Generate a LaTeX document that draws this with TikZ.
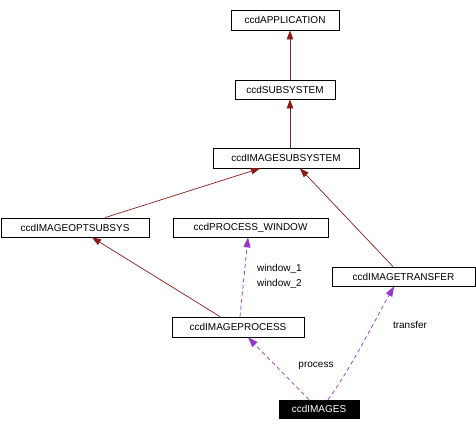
\documentclass[tikz,border=0pt]{standalone}
\usepackage{fontspec}
\setmainfont{Liberation Sans}
\usetikzlibrary{arrows.meta}
\definecolor{inh}{HTML}{8B1A1A}
\definecolor{use}{HTML}{9A32CD}
\tikzset{
  box/.style={draw=black, line width=0.8pt, fill=white, inner sep=0pt, font=\fontsize{10}{12}\selectfont, text=black},
  cur/.style={box, fill=black, text=white},
  inhedge/.style={draw=inh, line width=0.7pt, -{Triangle[length=9pt,width=6.5pt]}},
  useedge/.style={draw=use, line width=0.7pt, dash pattern=on 4pt off 3pt, -{Triangle[length=10pt,width=7pt]}},
  lbl/.style={inner sep=0pt, font=\fontsize{10}{12}\selectfont}
}
\begin{document}
\begin{tikzpicture}[x=1pt,y=-1pt]
\useasboundingbox (0,0) rectangle (476,431);
\node[box, minimum width=108pt, minimum height=20pt] (app) at (285,20) {ccdAPPLICATION};
\node[box, minimum width=100pt, minimum height=19pt] (sub) at (285,89.5) {ccdSUBSYSTEM};
\node[box, minimum width=146pt, minimum height=20pt] (imgsub) at (286,158) {ccdIMAGESUBSYSTEM};
\node[box, minimum width=148pt, minimum height=19pt] (opt) at (75,227.5) {ccdIMAGEOPTSUBSYS};
\node[box, minimum width=155pt, minimum height=19pt] (pw) at (250.5,227.5) {ccdPROCESS\_WINDOW};
\node[box, minimum width=132pt, minimum height=20pt] (ip) at (238,327) {ccdIMAGEPROCESS};
\node[box, minimum width=143pt, minimum height=19pt] (it) at (403.5,276.5) {ccdIMAGETRANSFER};
\node[cur, minimum width=80pt, minimum height=18pt] (images) at (319,409) {ccdIMAGES};

\node[lbl, anchor=west] (w1) at (257,269) {window\_1};
\node[lbl, anchor=west] (w2) at (257,284) {window\_2};
\node[lbl] (lproc) at (316,366) {process};
\node[lbl] (ltrans) at (410,325) {transfer};

\draw[inhedge] ([xshift=5pt]sub.north) -- ([xshift=5pt]app.south);
\draw[inhedge] ([xshift=4pt]imgsub.north) -- ([xshift=5pt]sub.south);
\draw[inhedge] ([xshift=30pt]opt.north) -- ([xshift=-26pt]imgsub.south);
\draw[inhedge] ([xshift=-10.5pt]it.north) -- ([xshift=14pt]imgsub.south);
\draw[inhedge] ([xshift=-18pt]ip.north) -- ([xshift=17pt]opt.south);

\draw[useedge] ([xshift=2pt]ip.north) -- ([xshift=-2.5pt]pw.south);
\draw[useedge] ([xshift=-10pt]images.north) -- ([xshift=10pt]ip.south);
\draw[useedge] ([xshift=9pt]images.north) .. controls (350,370) and (375,320) .. ([xshift=-9.5pt]it.south);
\end{tikzpicture}
\end{document}
